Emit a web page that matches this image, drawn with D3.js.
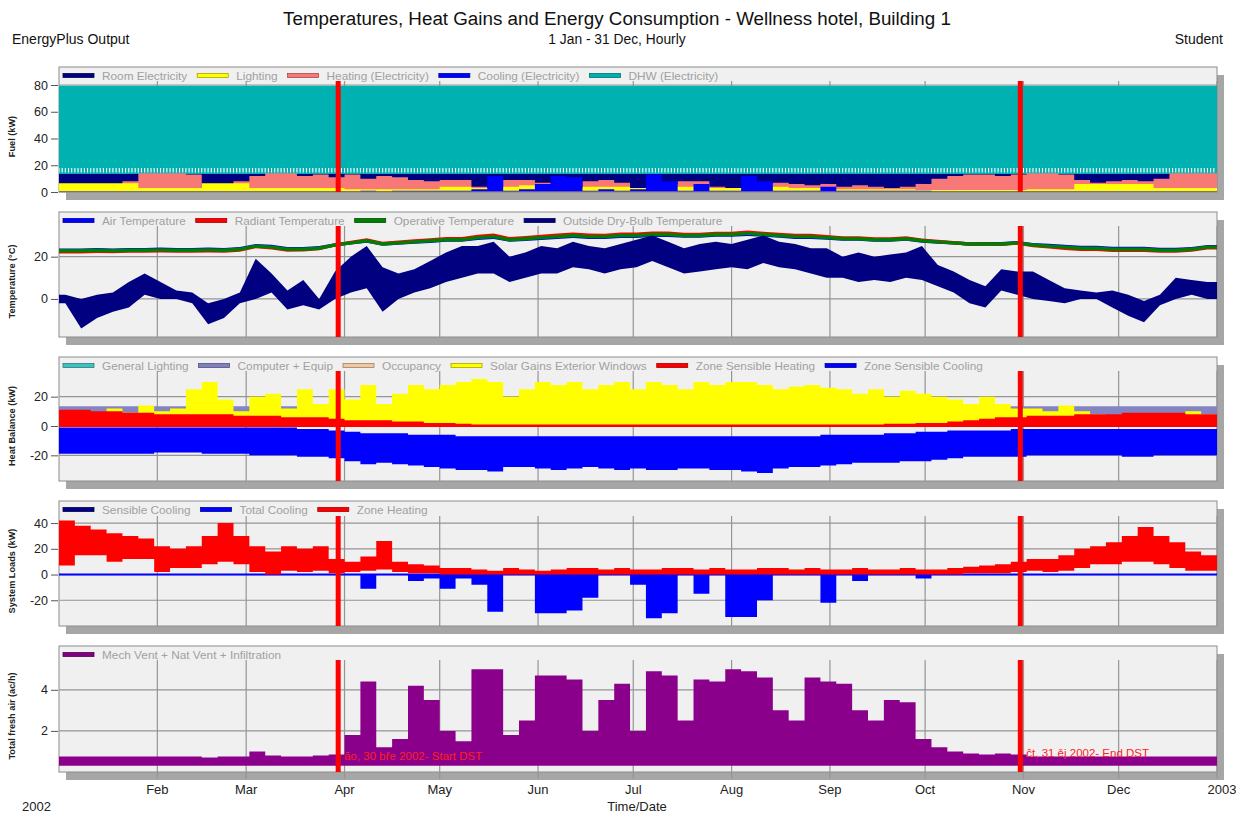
<!DOCTYPE html>
<html><head><meta charset="utf-8">
<script src="https://cdn.jsdelivr.net/npm/d3@7"></script>
<style>body{margin:0;background:#fff;} svg{display:block;font-family:"Liberation Sans",Arial,sans-serif;}</style>
</head><body><svg id="c" width="1236" height="816"></svg>
<script>
// ---- time grid: 5-day bins (day of year) ----
const binDays = d3.range(0, 365, 5); // 73 bins
const monthLabels = ["Feb","Mar","Apr","May","Jun","Jul","Aug","Sep","Oct","Nov","Dec","2003"];

// ---- Panel 1: Fuel (kW) ----
const dhwElec   = Array(73).fill(79.5);
const dhwLow    = 16.5;   // level of the periodic white DHW gaps
const roomElec  = [13.5,13.5,13.5,13.5,13.5,13.5,13.5,13.5,13.5,13.5,13.5,13.5,13.5,13.5,13.5,13.5,13.5,13.5,13.5,13.5,13.5,13.5,13.5,13.5,13.5,13.5,13.5,13.5,13.5,13.5,13.5,13.5,13.5,13.5,13.5,13.5,13.5,13.5,13.5,13.5,13.5,13.5,13.5,13.5,13.5,13.5,13.5,13.5,13.5,13.5,13.5,13.5,13.5,13.5,13.5,13.5,13.5,13.5,13.5,13.5,13.5,13.5,13.5,13.5,13.5,13.5,13.5,13.5,13.5,13.5,13.5,13.5,13.5];
const heatElec  = [5,3,3,4,8,14,14,14,13,3,3,8,12,14,14,12,13,11,13,10,12,11,9,8,9,9,4,3,9,9,7,3,3,8,9,7,3,3,6,8,8,4,3,3,6,7,6,5,6,4,5,4,3,4,6,10,12,13,13,12,13,14,14,13,9,7,8,9,8,10,14,14,14];
const lightElec = [6.5,6.5,6.5,6.5,6.5,3,3,3,3,6.5,6.5,6.5,3,3,3,3,3,3,2,2,2,2,2,2,4,4,3,3,4,5,4,3,3,4,4,4,3,3,4,4,4,3,3,3,4,4,3,3,2,2,2,2,2,2,1.5,1.5,1.5,1.5,1.5,1.5,1.5,2,2,2,6,6,6,6,6,3,3,3,3];
const coolElec  = [0.5,0.5,0.5,0.5,0.5,0.5,0.5,0.5,0.5,0.5,0.5,0.5,0.5,0.5,0.5,0.5,0.5,0.5,0.5,1,0.5,1,1,1,1,1,2,12,1,2,6,12,11,1,2,1,2,13,8,1,6,1,1,12,8,1,1,1,4,1,1,1,1,1,1,0.5,0.5,0.5,0.5,0.5,0.5,0.5,0.5,0.5,0.5,0.5,0.5,0.5,0.5,0.5,0.5,0.5,0.5];

// ---- Panel 2: Temperature (°C) ----
const operTemp = [22.8,22.8,23,22.8,23,23,23.2,23,23,23.2,23,23.5,25,24.5,23.5,23.5,24,25.5,26.5,27.5,26,26.5,27,27.5,28,28,29,29.5,28,28.5,29,29.5,30,29.5,29.5,30,30,30.5,30.5,30,30,30.5,30.5,31,30.5,30,29.5,29.5,29,28.5,28.5,28,28,28.5,27.5,27,26.5,26,26,26,26.5,25.5,25,24.5,24,24,23.5,23.5,23.5,23,23,23.5,24.5];
const radTemp  = [22.3,22.3,22.5,22.4,22.6,22.6,22.8,22.6,22.6,22.8,22.6,23.1,24.8,24.2,23.1,23.2,23.8,25.6,26.7,27.9,26.2,26.8,27.4,27.9,28.5,28.5,29.6,30.1,28.5,29,29.6,30.1,30.6,30.1,30,30.6,30.6,31.1,31.1,30.5,30.5,31,31,31.6,31,30.5,30,30,29.4,28.9,28.9,28.4,28.4,28.9,27.8,27.2,26.6,26,25.9,25.8,26.4,25.2,24.6,24,23.5,23.5,23,23,23,22.6,22.6,23.1,24.2];
const airTemp  = [23.1,23.1,23.3,23.1,23.3,23.3,23.5,23.3,23.3,23.5,23.3,23.8,25.2,24.8,23.8,23.8,24.2,25.6,26.5,27.4,26,26.4,26.9,27.3,27.8,27.8,28.7,29.1,27.8,28.2,28.7,29.1,29.6,29.1,29.2,29.6,29.6,30.1,30.1,29.7,29.7,30.2,30.2,30.6,30.2,29.7,29.2,29.2,28.8,28.3,28.3,27.8,27.8,28.3,27.4,26.9,26.5,26,26.1,26.1,26.6,25.7,25.3,24.8,24.4,24.4,23.9,23.9,23.9,23.4,23.4,23.8,24.7];
const outMin = [-2,-14,-9,-6,-4,2,0,0,-2,-12,-9,-2,0,3,-5,-3,-5,0,3,5,-6,0,3,5,8,10,12,12,8,10,12,12,15,14,12,14,15,18,15,12,13,14,15,14,17,15,14,12,10,10,8,9,8,10,9,6,3,-2,-4,4,2,0,-1,-2,0,0,-4,-8,-11,-3,0,2,0];
const outMax = [2,0,2,3,8,12,8,4,3,-2,0,3,19,12,4,9,0,13,20,25,15,12,14,18,22,25,25,27,20,22,25,24,27,25,24,26,28,30,27,24,26,27,26,28,30,27,26,24,24,20,22,20,21,22,25,16,13,9,6,14,13,13,9,5,4,3,4,2,-1,2,10,9,8];

// ---- Panel 3: Heat Balance (kW) ----
const compEquip = Array(73).fill(13.5);
const solarGain = [8,10,8,12,9,14,10,12,25,30,18,10,20,22,12,25,15,25,18,28,15,22,28,25,28,30,32,30,20,25,30,28,30,25,28,30,25,30,28,25,30,28,30,30,28,25,27,28,26,25,22,25,20,24,22,20,18,15,20,15,12,12,10,14,10,8,6,6,8,5,7,10,8];
const zoneSensHeat = [11,11,10,10,9,9,8,8,8,8,8,7,7,7,6,6,6,5,4,4,4,3,3,2,2,1.5,1,1,1,1,1,1,1,1,1,1,1,1,1,1,1,1,1,1,1,1,1,1,1,1,1,1,1.5,1.5,2,2,3,4,5,6,6,7,7,7,8,8,8,9,9,9,9,8,8];
const zoneSensCoolMin = [-19,-19,-19,-19,-19,-19,-18,-18,-18,-19,-19,-19,-20,-20,-20,-21,-21,-22,-24,-26,-25,-26,-27,-28,-29,-30,-30,-31,-28,-28,-29,-30,-29,-28,-29,-30,-29,-30,-30,-29,-29,-30,-30,-31,-32,-29,-28,-28,-27,-26,-25,-25,-25,-24,-24,-23,-22,-21,-21,-21,-21,-20,-20,-20,-20,-20,-20,-21,-21,-20,-20,-20,-20];
const zoneSensCoolMax = [-1,-1,-1,-1,-1,-1,-1,-1,-1,-1,-1,-1,-1,-1,-1,-2,-2,-3,-4,-5,-5,-5,-6,-6,-6,-7,-7,-7,-7,-7,-7,-7,-7,-7,-7,-7,-7,-7,-7,-7,-7,-7,-7,-7,-7,-7,-7,-7,-6,-6,-6,-6,-5,-5,-4,-4,-3,-3,-3,-3,-2,-2,-2,-2,-2,-2,-2,-2,-2,-2,-2,-2,-2];

// ---- Panel 4: System Loads (kW) ----
const zoneHeatMin = [7,15,15,10,12,12,2,5,5,8,10,8,2,0,3,2,3,1,2,3,4,2,1,1,0,0,0,0,0,0,0,0,0,0,0,0,0,0,0,0,0,0,0,0,0,0,0,0,0,0,0,0,0,0,0,0,0,1,1,1,2,3,2,3,5,8,8,10,10,8,5,3,3];
const zoneHeatMax = [42,38,35,32,30,28,22,20,22,30,40,30,22,18,22,20,22,12,10,14,26,10,8,7,5,5,4,3,5,4,3,4,5,5,4,5,4,4,5,5,4,5,4,4,5,5,4,5,4,4,5,4,4,5,4,4,5,6,7,8,10,12,12,15,20,22,25,30,37,30,25,18,15];
const totalCoolMin = [0,0,0,0,0,0,0,0,0,0,0,0,0,0,0,0,0,0,0,-11,0,0,-5,-3,-11,-3,-8,-29,0,0,-30,-30,-28,-18,0,0,-8,-34,-30,0,-15,0,-33,-33,-20,0,0,0,-22,0,-5,0,0,0,-3,0,0,0,0,0,0,0,0,0,0,0,0,0,0,0,0,0,0];

// ---- Panel 5: Total fresh air (ac/h) ----
const ventMin = Array(73).fill(0.3);
const ventMax = [0.75,0.75,0.75,0.75,0.75,0.75,0.75,0.75,0.75,0.7,0.75,0.75,1.0,0.8,0.75,0.75,0.8,0.85,1.8,4.4,1.2,1.6,4.2,3.5,2.0,1.5,5.0,5.0,1.8,2.5,4.7,4.7,4.5,2.0,3.5,4.3,2.0,4.9,4.7,2.5,4.5,4.4,5.0,4.9,4.6,3.0,2.5,4.6,4.4,4.3,3.0,2.5,3.5,3.4,1.6,1.2,1.0,0.9,0.85,0.9,0.85,0.75,0.75,0.75,0.75,0.75,0.75,0.75,0.75,0.75,0.75,0.75,0.75];

const dstStart = new Date(2002,2,30), dstEnd = new Date(2002,9,31);

// ================= drawing =================
const svg = d3.select("#c");
const t0 = new Date(2002,0,1), t1 = new Date(2003,0,1);
const x = d3.scaleTime().domain([t0,t1]).range([59,1217]);
const dayDate = d => d3.timeDay.offset(t0, d);

const panels = [
  {top:67, dTop:81, bottom:192, domain:[0,83], ticks:[0,20,40,60,80], title:"Fuel (kW)",
   legend:[["Room Electricity","#000080"],["Lighting","#ffff00"],["Heating (Electricity)","#f87878"],["Cooling (Electricity)","#0000ff"],["DHW (Electricity)","#00b0b0"]]},
  {top:212, dTop:226, bottom:337, domain:[-18,34.5], ticks:[0,20], title:"Temperature (°C)",
   legend:[["Air Temperature","#0000ff"],["Radiant Temperature","#ff0000"],["Operative Temperature","#008000"],["Outside Dry-Bulb Temperature","#000080"]]},
  {top:357, dTop:371, bottom:481, domain:[-37.5,37.5], ticks:[-20,0,20], title:"Heat Balance (kW)",
   legend:[["General Lighting","#40c0c0"],["Computer + Equip","#8080c0"],["Occupancy","#f0c8a0"],["Solar Gains Exterior Windows","#ffff00"],["Zone Sensible Heating","#ff0000"],["Zone Sensible Cooling","#0000ff"]]},
  {top:501, dTop:516, bottom:626, domain:[-40,45.5], ticks:[-20,0,20,40], title:"System Loads (kW)",
   legend:[["Sensible Cooling","#000080"],["Total Cooling","#0000ff"],["Zone Heating","#ff0000"]]},
  {top:646, dTop:660, bottom:772, domain:[0,5.45], ticks:[2,4], title:"Total fresh air (ac/h)",
   legend:[["Mech Vent + Nat Vent + Infiltration","#800080"]]}
];

const months = d3.timeMonth.range(new Date(2002,1,1), new Date(2003,0,2));

// titles
svg.append("text").attr("x",617).attr("y",25).attr("text-anchor","middle").attr("font-size",18.8).attr("fill","#111").text("Temperatures, Heat Gains and Energy Consumption - Wellness hotel, Building 1");
svg.append("text").attr("x",12).attr("y",44).attr("font-size",14).attr("fill","#111").text("EnergyPlus Output");
svg.append("text").attr("x",617).attr("y",44).attr("text-anchor","middle").attr("font-size",13.8).attr("fill","#111").text("1 Jan - 31 Dec, Hourly");
svg.append("text").attr("x",1223).attr("y",44).attr("text-anchor","end").attr("font-size",14).attr("fill","#111").text("Student");

const defs = svg.append("defs");

panels.forEach((p,pi) => {
  p.y = d3.scaleLinear().domain(p.domain).range([p.bottom, p.dTop]);
  const g = svg.append("g");
  g.append("rect").attr("x",66).attr("y",p.top+8).attr("width",1217-59).attr("height",p.bottom-p.top).attr("fill","#a6a6a6");
  g.append("rect").attr("x",59).attr("y",p.top).attr("width",1217-59).attr("height",p.bottom-p.top).attr("fill","#f0f0f0").attr("stroke","#8c8c8c").attr("stroke-width",1);
  p.ticks.forEach(t => {
    g.append("line").attr("x1",59).attr("x2",1217).attr("y1",p.y(t)).attr("y2",p.y(t)).attr("stroke","#959595").attr("stroke-width",1.2);
  });
  months.forEach(m => {
    g.append("line").attr("x1",x(m)).attr("x2",x(m)).attr("y1",p.dTop).attr("y2",p.bottom).attr("stroke","#959595").attr("stroke-width",1.2);
  });
  const ya = d3.axisLeft(p.y).tickValues(p.ticks).tickSize(7).tickPadding(3).tickFormat(d3.format("d"));
  const ag = g.append("g").attr("transform","translate(58,0)").call(ya);
  ag.select(".domain").remove();
  ag.selectAll("line").attr("stroke","#555");
  ag.selectAll("text").attr("font-size",12.5).attr("fill","#222").attr("font-family","Liberation Sans, Arial, sans-serif").text(d=>String(d));
  const cy = (p.dTop+p.bottom)/2;
  g.append("text").attr("transform",`translate(15,${cy}) rotate(-90)`).attr("text-anchor","middle").attr("font-size",9.2).attr("font-weight","bold").attr("fill","#222").text(p.title);
  defs.append("clipPath").attr("id","clip"+pi).append("rect").attr("x",59).attr("y",p.dTop-6).attr("width",1158).attr("height",p.bottom-p.dTop+5.5);
  p.g = svg.append("g").attr("clip-path",`url(#clip${pi})`);
});

function stepArea(p, lo, hi, color) {
  const pts = hi.map((h,i)=>({t:dayDate(binDays[i]), lo: Array.isArray(lo)?lo[i]:lo, hi:h}));
  pts.push(Object.assign({}, pts[pts.length-1], {t:t1}));
  p.g.append("path").datum(pts).attr("fill",color)
    .attr("d", d3.area().curve(d3.curveStepAfter).x(d=>x(d.t)).y0(d=>p.y(d.lo)).y1(d=>p.y(d.hi)));
}
function smoothBand(p, lo, hi, color) {
  const pts = hi.map((h,i)=>({t:dayDate(binDays[i]+2.5), lo: lo[i], hi:h}));
  pts.unshift(Object.assign({}, pts[0], {t:t0}));
  pts.push(Object.assign({}, pts[pts.length-1], {t:t1}));
  p.g.append("path").datum(pts).attr("fill",color)
    .attr("d", d3.area().curve(d3.curveLinear).x(d=>x(d.t)).y0(d=>p.y(d.lo)).y1(d=>p.y(d.hi)));
}
function lineBand(p, vals, half, color) {
  smoothBand(p, vals.map(v=>v-half), vals.map(v=>v+half), color);
}

// Panel 1
const P1 = panels[0];
stepArea(P1, 0, dhwElec, "#00b1b1");
// periodic white gaps in the DHW trace
d3.timeHour.every(60).range(t0, t1).forEach(d => {
  P1.g.append("line").attr("x1",x(d)).attr("x2",x(d)).attr("y1",P1.y(dhwLow-2)).attr("y2",P1.y(dhwLow+1.5)).attr("stroke","#ffffff").attr("stroke-width",1.1);
});
stepArea(P1, 0, roomElec, "#000080");
stepArea(P1, 0, heatElec, "#f87878");
stepArea(P1, 0, lightElec, "#ffff00");
stepArea(P1, 0, coolElec, "#0000ff");

// Panel 2
const P2 = panels[1];
lineBand(P2, airTemp, 0.8, "#0000ff");
lineBand(P2, radTemp, 0.8, "#ff0000");
lineBand(P2, operTemp, 0.8, "#008000");
smoothBand(P2, outMin, outMax, "#000080");

// Panel 3
const P3 = panels[2];
stepArea(P3, 0, compEquip, "#8484c4");
stepArea(P3, 0, solarGain, "#ffff00");
stepArea(P3, 0, zoneSensHeat, "#ff0000");
stepArea(P3, zoneSensCoolMin, zoneSensCoolMax, "#0000ff");
P3.g.append("line").attr("x1",59).attr("x2",1217).attr("y1",P3.y(0)).attr("y2",P3.y(0)).attr("stroke","#ff0000").attr("stroke-width",2);

// Panel 4
const P4 = panels[3];
stepArea(P4, totalCoolMin, Array(73).fill(0), "#0000ff");
P4.g.append("line").attr("x1",59).attr("x2",1217).attr("y1",P4.y(0)).attr("y2",P4.y(0)).attr("stroke","#0000ff").attr("stroke-width",2);
stepArea(P4, zoneHeatMin, zoneHeatMax, "#ff0000");

// Panel 5
const P5 = panels[4];
stepArea(P5, ventMin, ventMax, "#8b008b");

// DST lines + legends
panels.forEach((p,pi) => {
  [dstStart, dstEnd].forEach(d => {
    svg.append("rect").attr("x",x(d)-2.5).attr("y",p.dTop).attr("width",5).attr("height",p.bottom-p.dTop).attr("fill","#ff0000");
  });
  const ly = p.top + 8.5;
  let lx = 63;
  p.legend.forEach(([name,col]) => {
    svg.append("rect").attr("x",lx).attr("y",ly-2).attr("width",31).attr("height",4).attr("fill",col).attr("stroke",d3.color(col).darker(1.2)).attr("stroke-width",0.8);
    const t = svg.append("text").attr("x",lx+39).attr("y",ly+4).attr("font-size",11.8).attr("fill","#a0a0a0").text(name);
    lx += 39 + t.node().getComputedTextLength() + 10;
  });
});
svg.append("text").attr("x",x(dstStart)+6).attr("y",760).attr("font-size",11.5).attr("fill","#ff2020").text("ăo, 30 bře 2002- Start DST");
svg.append("text").attr("x",x(dstEnd)+6).attr("y",757).attr("font-size",11.5).attr("fill","#ff2020").text("ĉt, 31 ěj 2002- End DST");

// x axis labels
const last = panels[4];
months.forEach((m,i) => {
  svg.append("line").attr("x1",x(m)).attr("x2",x(m)).attr("y1",last.bottom).attr("y2",779).attr("stroke","#959595").attr("stroke-width",1.2);
  svg.append("text").attr("x",x(m) + (i===11?5:0)).attr("y",794).attr("text-anchor","middle").attr("font-size",13).attr("fill","#222").text(monthLabels[i]);
});
svg.append("text").attr("x",22).attr("y",811).attr("font-size",13).attr("fill","#222").text("2002");
svg.append("text").attr("x",637).attr("y",811).attr("text-anchor","middle").attr("font-size",13).attr("fill","#222").text("Time/Date");
</script>
</body></html>
